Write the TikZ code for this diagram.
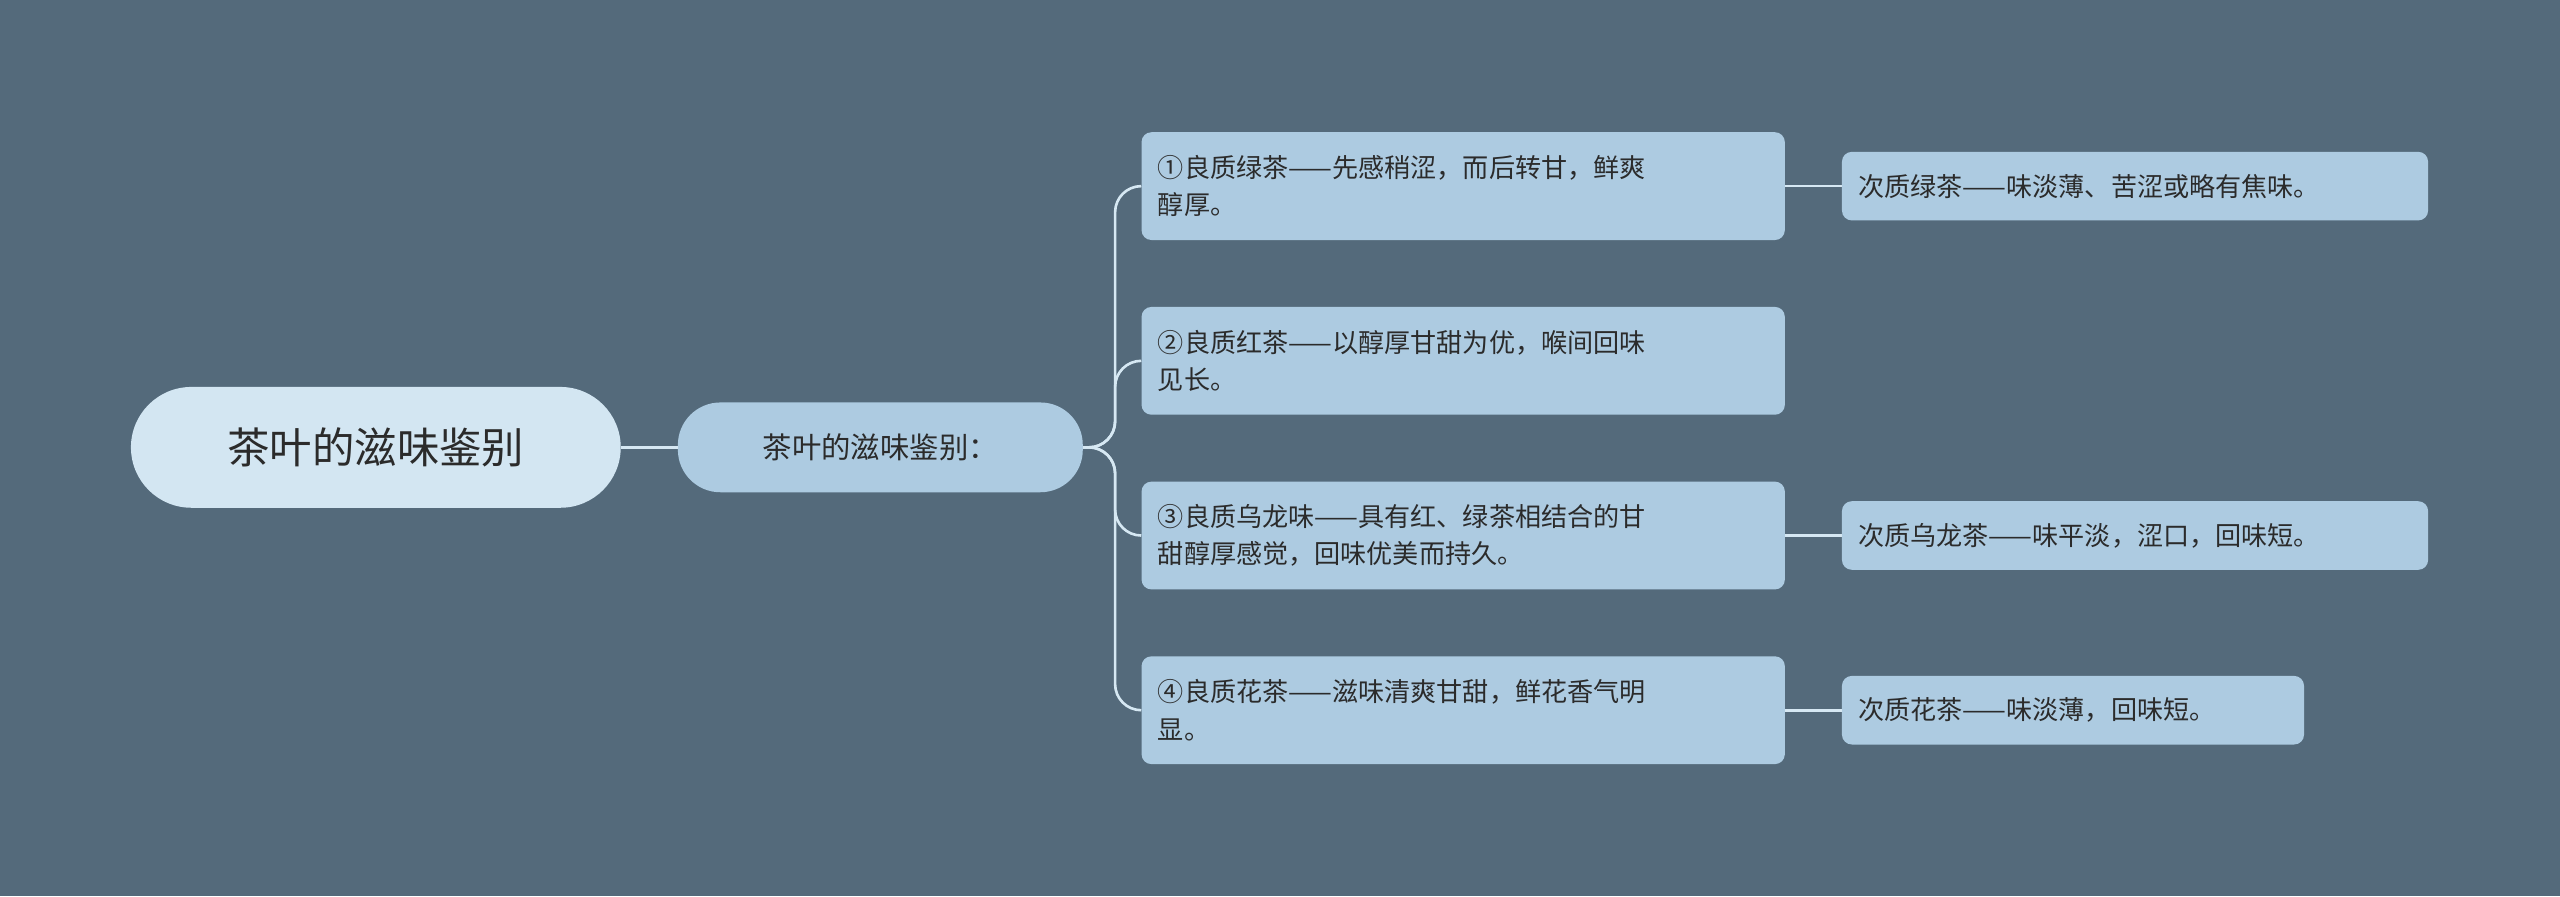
\documentclass[tikz,border=0pt]{standalone}
\usepackage{fontspec}
\setmainfont{Noto Sans CJK SC}
\definecolor{bg}{HTML}{546A7B}
\definecolor{rootc}{HTML}{D3E6F2}
\definecolor{boxc}{HTML}{ADCBE1}
\definecolor{linec}{HTML}{D6E8F3}
\definecolor{txt}{HTML}{2B2B2B}
\begin{document}
\begin{tikzpicture}[x=1pt,y=-1pt,
  rootbox/.style={fill=rootc,rounded corners=37pt,minimum width=300pt,minimum height=74pt,text=txt,font=\fontsize{26}{30}\selectfont,anchor=west,inner sep=0pt},
  midbox/.style={fill=boxc,rounded corners=26pt,minimum width=248pt,minimum height=55pt,text=txt,font=\fontsize{18}{22}\selectfont,anchor=west,inner sep=0pt},
  leafbox/.style={fill=boxc,rounded corners=6pt,text=txt,font=\fontsize{16}{23}\selectfont,anchor=west,align=left,inner xsep=10pt,inner ysep=0pt},
  conn/.style={draw=linec,line width=1.6pt}]
\fill[bg] (0,0) rectangle (1568,549);
\useasboundingbox (0,0) rectangle (1568,549);
\node[rootbox] (root) at (80,274) {茶叶的滋味鉴别};
\node[midbox] (mid) at (415,274) {茶叶的滋味鉴别：};
\node[leafbox,minimum width=394pt,minimum height=66pt,text width=374pt] (a) at (699,114) {①良质绿茶——先感稍涩，而后转甘，鲜爽\\醇厚。};
\node[leafbox,minimum width=394pt,minimum height=66pt,text width=374pt] (b) at (699,221) {②良质红茶——以醇厚甘甜为优，喉间回味\\见长。};
\node[leafbox,minimum width=394pt,minimum height=66pt,text width=374pt] (c) at (699,328) {③良质乌龙味——具有红、绿茶相结合的甘\\甜醇厚感觉，回味优美而持久。};
\node[leafbox,minimum width=394pt,minimum height=66pt,text width=374pt] (d) at (699,435) {④良质花茶——滋味清爽甘甜，鲜花香气明\\显。};
\node[leafbox,minimum width=359pt,minimum height=42pt,text width=339pt] (a2) at (1128,114) {次质绿茶——味淡薄、苦涩或略有焦味。};
\node[leafbox,minimum width=359pt,minimum height=42pt,text width=339pt] (c2) at (1128,328) {次质乌龙茶——味平淡，涩口，回味短。};
\node[leafbox,minimum width=283pt,minimum height=42pt,text width=263pt] (d2) at (1128,435) {次质花茶——味淡薄，回味短。};
\draw[conn] (root.east) -- (mid.west);
\foreach \n in {a,b,c,d}
  \draw[conn,rounded corners=16pt] (mid.east) -| ([xshift=-16pt]\n.west) -- (\n.west);
\draw[conn] (a.east) -- (a2.west);
\draw[conn] (c.east) -- (c2.west);
\draw[conn] (d.east) -- (d2.west);
\end{tikzpicture}
\end{document}
